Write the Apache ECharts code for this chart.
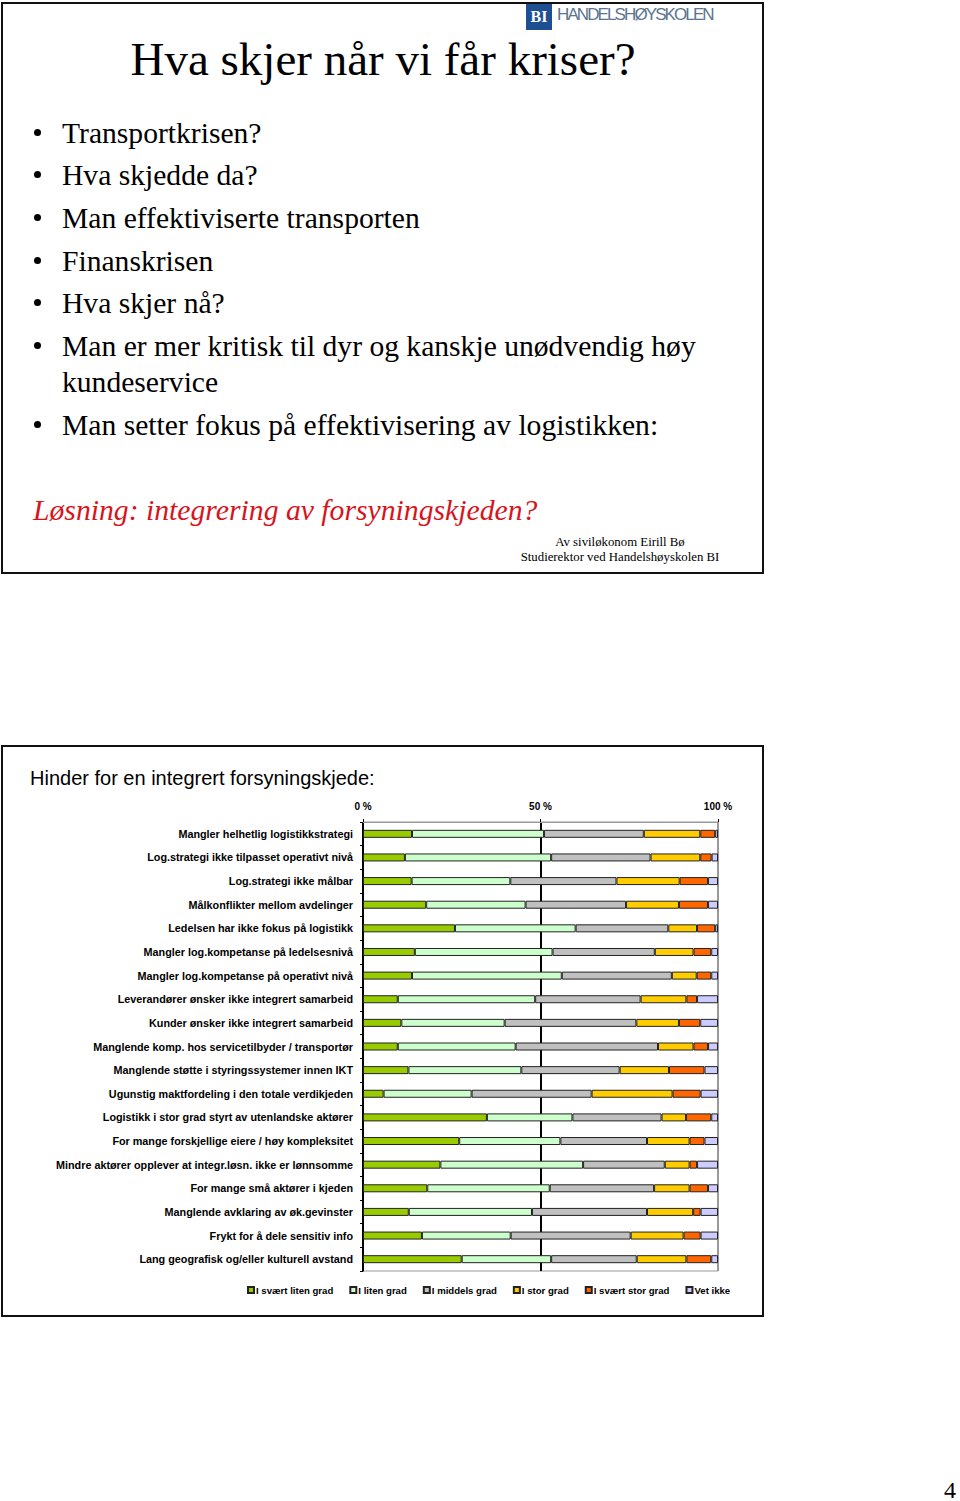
<!DOCTYPE html>
<html>
<head>
<meta charset="utf-8">
<script src="https://cdn.jsdelivr.net/npm/echarts@6/dist/echarts.min.js"></script>
<style>
  html, body { margin: 0; padding: 0; background: #fff; }
  body { width: 960px; height: 1501px; position: relative; overflow: hidden; }
  .abs { position: absolute; white-space: nowrap; }
  .frame { position: absolute; box-sizing: border-box; border: 2px solid #111; }
  .serif { font-family: "Liberation Serif", "Times New Roman", serif; color: #000; }
  .bul { font-size: 29.6px; line-height: 30px; }
  .dot { position: absolute; left: 34px; width: 7px; height: 7px; border-radius: 50%; background: #000; }
</style>
</head>
<body>
<!-- Slide 1 -->
<div class="frame" style="left:1px; top:2px; width:763px; height:572px;"></div>
<div class="abs" style="left:526px; top:4px; width:26px; height:26px; background:#1f4f93; color:#fff; font:bold 16px 'Liberation Serif',serif; line-height:26px; text-align:center;">BI</div>
<div class="abs" style="left:557px; top:5px; font:17px 'Liberation Sans',Arial,sans-serif; line-height:20px; color:#5b7490; letter-spacing:-1.9px;">HANDELSHØYSKOLEN</div>
<div class="abs serif" style="left:0; width:766px; text-align:center; top:36px; font-size:47px; line-height:47px;">Hva skjer når vi får kriser?</div>

<div class="dot" style="top:129px;"></div>
<div class="abs serif bul" style="left:62px; top:118px;">Transportkrisen?</div>
<div class="dot" style="top:171px;"></div>
<div class="abs serif bul" style="left:62px; top:160px;">Hva skjedde da?</div>
<div class="dot" style="top:214px;"></div>
<div class="abs serif bul" style="left:62px; top:203px;">Man effektiviserte transporten</div>
<div class="dot" style="top:257px;"></div>
<div class="abs serif bul" style="left:62px; top:246px;">Finanskrisen</div>
<div class="dot" style="top:299px;"></div>
<div class="abs serif bul" style="left:62px; top:288px;">Hva skjer nå?</div>
<div class="dot" style="top:342px;"></div>
<div class="abs serif bul" style="left:62px; top:331px;">Man er mer kritisk til dyr og kanskje unødvendig høy</div>
<div class="abs serif bul" style="left:62px; top:367px;">kundeservice</div>
<div class="dot" style="top:421px;"></div>
<div class="abs serif bul" style="left:62px; top:410px;">Man setter fokus på effektivisering av logistikken:</div>

<div class="abs serif" style="left:33px; top:495px; font-size:29.7px; line-height:30px; font-style:italic; color:#d7141c;">Løsning: integrering av forsyningskjeden?</div>
<div class="abs serif" style="left:470px; width:300px; text-align:center; top:535px; font-size:12.8px; line-height:14px;">Av siviløkonom Eirill Bø</div>
<div class="abs serif" style="left:470px; width:300px; text-align:center; top:550px; font-size:12.8px; line-height:14px;">Studierektor ved Handelshøyskolen BI</div>

<!-- Slide 2 -->
<div class="frame" style="left:1px; top:745px; width:763px; height:572px;"></div>
<div class="abs" style="left:30px; top:767px; font:20px 'Liberation Sans',Arial,sans-serif; line-height:22px; color:#000;">Hinder for en integrert forsyningskjede:</div>
<div id="chart" class="abs" style="left:0; top:790px; width:764px; height:520px;"></div>

<div class="abs serif" style="left:944px; top:1478px; font-size:24px; line-height:24px;">4</div>

<script>
const categories = [
  "Mangler helhetlig logistikkstrategi",
  "Log.strategi ikke tilpasset operativt nivå",
  "Log.strategi ikke målbar",
  "Målkonflikter mellom avdelinger",
  "Ledelsen har ikke fokus på logistikk",
  "Mangler log.kompetanse på ledelsesnivå",
  "Mangler log.kompetanse på operativt nivå",
  "Leverandører ønsker ikke integrert samarbeid",
  "Kunder ønsker ikke integrert samarbeid",
  "Manglende komp. hos servicetilbyder / transportør",
  "Manglende støtte i styringssystemer innen IKT",
  "Ugunstig maktfordeling i den totale verdikjeden",
  "Logistikk i stor grad styrt av utenlandske aktører",
  "For mange forskjellige eiere / høy kompleksitet",
  "Mindre aktører opplever at integr.løsn. ikke er lønnsomme",
  "For mange små aktører i kjeden",
  "Manglende avklaring av øk.gevinster",
  "Frykt for å dele sensitiv info",
  "Lang geografisk og/eller kulturell avstand"
];
const seriesNames = ["I svært liten grad", "I liten grad", "I middels grad", "I stor grad", "I svært stor grad", "Vet ikke"];
const svaertLiten = [13.8, 11.8, 13.7, 17.8, 25.9, 14.6, 13.8, 9.8, 10.8, 9.8, 12.8, 5.8, 34.9, 27.1, 21.8, 18.1, 12.9, 16.6, 27.8];
const liten      = [37.2, 41.2, 27.8, 28.0, 34.0, 38.8, 42.2, 38.7, 29.1, 33.2, 31.8, 24.8, 24.1, 28.5, 40.2, 34.5, 34.7, 25.0, 25.2];
const middels    = [28.1, 28.0, 29.9, 28.3, 26.1, 28.8, 31.0, 29.7, 37.1, 40.1, 27.7, 33.8, 25.1, 24.4, 23.0, 29.4, 32.4, 33.8, 24.1];
const stor       = [15.9, 14.0, 17.8, 14.9, 8.1, 10.9, 7.0, 12.9, 12.0, 10.0, 13.9, 22.8, 6.9, 12.0, 7.0, 10.0, 13.0, 14.9, 14.0];
const svaertStor = [4.2, 3.2, 8.0, 8.2, 5.1, 5.0, 4.1, 3.0, 6.0, 4.1, 10.0, 7.9, 7.1, 4.2, 2.1, 5.2, 2.1, 4.8, 7.0];
const vetIkke    = [0.8, 1.8, 2.8, 2.8, 0.8, 1.9, 1.9, 5.9, 5.0, 2.8, 3.8, 4.9, 1.9, 3.8, 5.9, 2.8, 4.9, 4.9, 1.9];
const xTicks = ["0 %", "50 %", "100 %"];

const colors = ["#99cc00", "#ccffcc", "#c0c0c0", "#ffcc00", "#ff6600", "#ccccff"];
const allValues = [svaertLiten, liten, middels, stor, svaertStor, vetIkke];

const chart = echarts.init(document.getElementById('chart'), null, { renderer: 'svg' });
const labelFont = { fontFamily: "'Liberation Sans', Arial, sans-serif", fontWeight: 'bold', color: '#000' };

chart.setOption({
  animation: false,
  color: colors,
  grid: { left: 363, top: 32, width: 355, height: 449, show: true, borderColor: '#999', borderWidth: 1, backgroundColor: '#fff' },
  legend: {
    left: 247, top: 495, itemWidth: 6, itemHeight: 6, itemGap: 16, icon: 'rect', padding: 0,
    textStyle: Object.assign({ fontSize: 9.6, padding: [0, 0, 0, -3] }, labelFont),
    data: seriesNames
  },
  xAxis: {
    type: 'value', position: 'top', min: 0, max: 100, interval: 50,
    axisLine: { show: true, lineStyle: { color: '#999', width: 1 } },
    axisTick: { show: true, length: 3, lineStyle: { color: '#000' } },
    axisLabel: Object.assign({ fontSize: 10, margin: 11, formatter: (v) => xTicks[Math.round(v / 50)] }, labelFont),
    splitLine: { show: true, lineStyle: { color: ['#000', '#000', '#999'], width: 2 } }
  },
  yAxis: {
    type: 'category', inverse: true, data: categories,
    axisLine: { show: true, lineStyle: { color: '#000', width: 1 } },
    axisTick: { show: true, length: 3, interval: 0, lineStyle: { color: '#000' } },
    axisLabel: Object.assign({ fontSize: 10.8, margin: 10, interval: 0 }, labelFont)
  },
  series: seriesNames.map((name, i) => ({
    name: name, type: 'bar', stack: 'total', barWidth: 8,
    itemStyle: { color: colors[i], borderColor: '#222', borderWidth: 1 },
    data: allValues[i]
  }))
});
</script>
</body>
</html>
